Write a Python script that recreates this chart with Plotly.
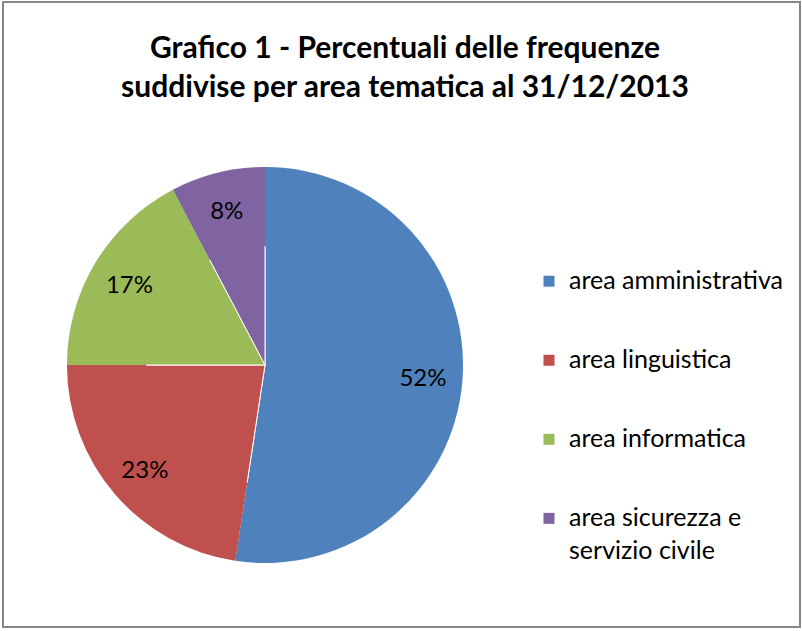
import plotly.graph_objects as go

categories = ["area amministrativa", "area linguistica", "area informatica", "area sicurezza e", "servizio civile"]
values = [52.4, 22.6, 17.3, 7.7]
colors = ["#4F81BD", "#C0504D", "#9BBB59", "#8064A2"]

W, H = 802, 631
FONT = "Lato, Open Sans, sans-serif"

def big(s):
    return "<span style='font-size:25px'>" + s + "</span>"

legend_labels = [
    big(categories[0]) + "<br> <br> ",
    big(categories[1]) + "<br> <br> ",
    big(categories[2]) + "<br> <br> ",
    big(categories[3]) + "<br><span style='font-size:38px'><sub>" + big(categories[4]) + "</sub></span>",
]

dom = dict(x=[67 / W, 463 / W], y=[1 - 563 / H, 1 - 167 / H])

fig = go.Figure()
fig.add_trace(go.Pie(
    labels=legend_labels, values=values, sort=False, direction="clockwise", rotation=0,
    marker=dict(colors=colors, line=dict(color="white", width=1)),
    textinfo="none", domain=dom, hoverinfo="skip",
))
fig.add_trace(go.Pie(
    labels=legend_labels, values=values, sort=False, direction="clockwise", rotation=0,
    hole=0.6, showlegend=False,
    marker=dict(colors=colors, line=dict(color="rgba(255,255,255,0)", width=0)),
    texttemplate="%{percent:.0%}", textposition="inside",
    insidetextorientation="horizontal",
    textfont=dict(family=FONT, size=24, color="black"),
    domain=dom, hoverinfo="percent",
))

fig.update_layout(
    width=W, height=H,
    margin=dict(l=0, r=0, t=0, b=0),
    paper_bgcolor="white",
    font=dict(family=FONT, color="black"),
    title=dict(
        text="<b>Grafico 1 - Percentuali delle frequenze<br>suddivise per area tematica al 31/12/2013</b>",
        x=405 / W, xanchor="center", y=1 - 58 / H, yanchor="middle",
        font=dict(family=FONT, size=30, color="black"),
    ),
    legend=dict(
        x=529 / W, xanchor="left", y=1 - 262 / H, yanchor="top",
        font=dict(size=19.5, color="black"),
        valign="top",
        itemwidth=30,
    ),
    shapes=[dict(type="rect", xref="paper", yref="paper",
                 x0=3 / W, x1=800 / W, y0=1 - 627 / H, y1=1 - 2 / H,
                 line=dict(color="#868686", width=2))],
)

fig.write_html("out.html", post_script="document.body.style.margin='0';",
               config={"displayModeBar": False})
